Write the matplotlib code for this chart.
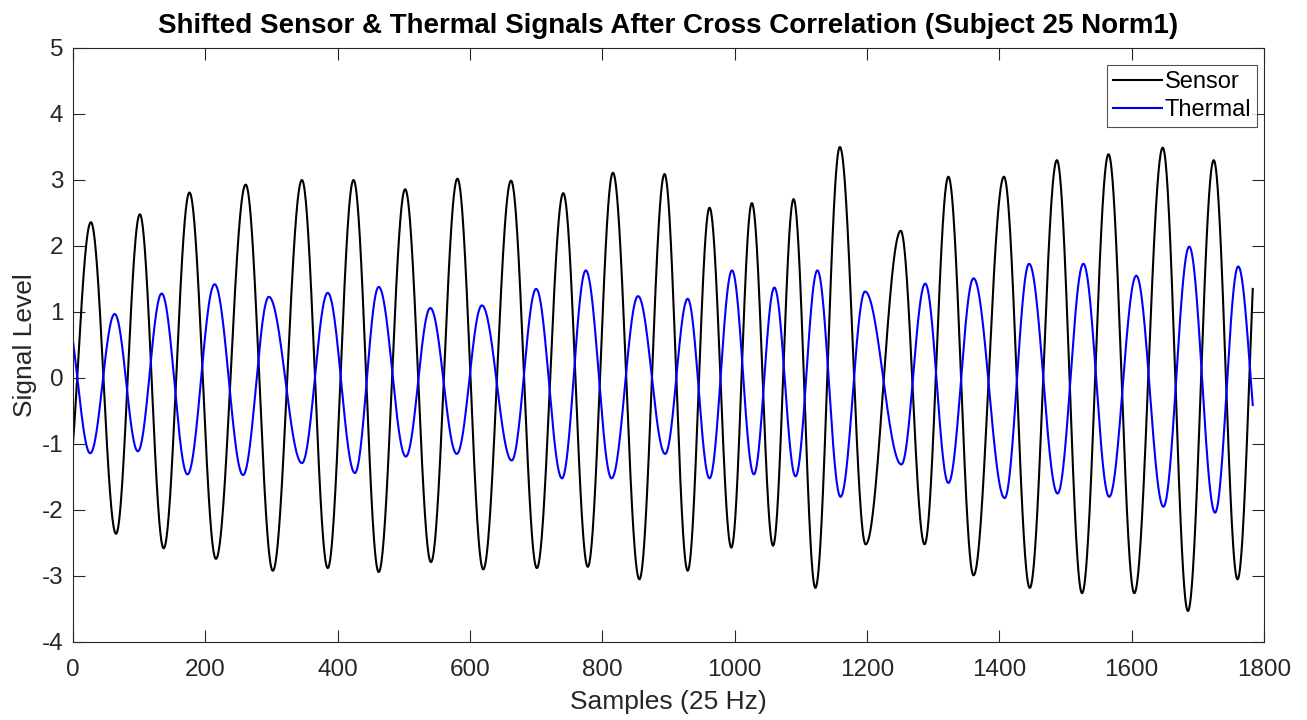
import numpy as np
import matplotlib
matplotlib.use("Agg")
import matplotlib.pyplot as plt

# ---- data: extrema of each signal (sample index, level) ----
sensor_x = [0, 27, 65, 101, 137, 176, 216, 261, 302, 346, 385, 424, 462, 502, 541, 581,
            620, 662, 701, 741, 778, 816, 856, 894, 929, 962, 995, 1026, 1058, 1089, 1122,
            1159, 1198, 1251, 1287, 1323, 1361, 1407, 1446, 1487, 1525, 1565, 1604, 1647,
            1685, 1724, 1760, 1783]
sensor_y = [-0.99, 2.36, -2.36, 2.48, -2.58, 2.81, -2.74, 2.93, -2.92, 3.00, -2.88, 3.00,
            -2.94, 2.86, -2.79, 3.02, -2.90, 2.99, -2.88, 2.80, -2.86, 3.11, -3.05, 3.09,
            -2.92, 2.58, -2.57, 2.65, -2.54, 2.71, -3.18, 3.50, -2.52, 2.23, -2.52, 3.05,
            -2.99, 3.05, -3.18, 3.30, -3.26, 3.39, -3.26, 3.49, -3.53, 3.30, -3.05, 1.35]

thermal_x = [0, 26, 63, 98, 134, 173, 214, 257, 296, 346, 385, 426, 462, 503, 540, 580,
             618, 663, 700, 739, 775, 814, 854, 895, 929, 962, 996, 1029, 1060, 1092, 1125,
             1160, 1197, 1252, 1288, 1323, 1361, 1408, 1445, 1488, 1527, 1566, 1607, 1648,
             1687, 1726, 1761, 1783]
thermal_y = [0.55, -1.14, 0.97, -1.11, 1.28, -1.46, 1.42, -1.47, 1.23, -1.29, 1.29, -1.44,
             1.38, -1.19, 1.06, -1.15, 1.10, -1.25, 1.35, -1.52, 1.63, -1.52, 1.24, -1.15,
             1.20, -1.52, 1.63, -1.46, 1.37, -1.49, 1.63, -1.80, 1.31, -1.31, 1.43, -1.59,
             1.51, -1.82, 1.73, -1.75, 1.73, -1.80, 1.55, -1.95, 1.99, -2.04, 1.69, -0.41]

series_names = ["Sensor", "Thermal"]
title_text = "Shifted Sensor & Thermal Signals After Cross Correlation (Subject 25 Norm1)"
xlabel_text = "Samples (25 Hz)"
ylabel_text = "Signal Level"
x_ticks = [0, 200, 400, 600, 800, 1000, 1200, 1400, 1600, 1800]
y_ticks = [-4, -3, -2, -1, 0, 1, 2, 3, 4, 5]


def oscillation(xk, yk, step=0.5):
    """Smooth oscillation through the given extrema (half-cosine between them)."""
    xk = np.asarray(xk, float)
    yk = np.asarray(yk, float)
    xs, ys = [], []
    n = len(xk)
    for i in range(n - 1):
        x0, x1 = xk[i], xk[i + 1]
        t = np.arange(x0, x1, step)
        if i == 0:
            L = xk[2] - xk[1]
            num = 1 - np.cos(np.pi * (x1 - t) / L)
            den = 1 - np.cos(np.pi * (x1 - x0) / L)
            y = yk[1] + (yk[0] - yk[1]) * num / den
        elif i == n - 2:
            L = xk[n - 2] - xk[n - 3]
            num = 1 - np.cos(np.pi * (t - x0) / L)
            den = 1 - np.cos(np.pi * (x1 - x0) / L)
            y = yk[i] + (yk[i + 1] - yk[i]) * num / den
        else:
            u = (t - x0) / (x1 - x0)
            y = yk[i] + (yk[i + 1] - yk[i]) * (1 - np.cos(np.pi * u)) / 2
        xs.append(t)
        ys.append(y)
    xs.append([xk[-1]])
    ys.append([yk[-1]])
    return np.concatenate(xs), np.concatenate(ys)


plt.rcParams['font.family'] = ['Liberation Sans', 'DejaVu Sans']
plt.rcParams['axes.unicode_minus'] = False
axis_col = '#262626'

fig = plt.figure(figsize=(13.07, 7.20), dpi=100)
ax = fig.add_axes([73 / 1307, 78 / 720, (1264 - 73) / 1307, (642 - 48) / 720])

sx, sy = oscillation(sensor_x, sensor_y)
tx, ty = oscillation(thermal_x, thermal_y)
ax.plot(sx, sy, color='black', lw=1.5, label=series_names[0])
ax.plot(tx, ty, color='#0000ff', lw=1.5, label=series_names[1])

ax.set_xlim(0, 1800)
ax.set_ylim(-4, 5)
ax.set_xticks(x_ticks)
ax.set_yticks(y_ticks)
ax.tick_params(direction='in', length=8.6, width=0.8, top=True, right=True,
               labelsize=17.5, colors=axis_col)
ax.tick_params(axis='x', pad=12)
ax.tick_params(axis='y', pad=7)
for s in ax.spines.values():
    s.set_color(axis_col)
    s.set_linewidth(0.8)

ax.set_xlabel(xlabel_text, fontsize=19, color=axis_col, labelpad=7)
ax.set_ylabel(ylabel_text, fontsize=19, color=axis_col, labelpad=3)
ax.set_title(title_text, fontsize=20, fontweight='bold', color='black', pad=11)

leg = ax.legend(loc='upper right', bbox_to_anchor=((1257 - 73) / 1191, (642 - 65) / 594),
                fontsize=17, frameon=True, fancybox=False,
                edgecolor=axis_col, handlelength=2.08, handletextpad=0.1,
                borderpad=0.25, labelspacing=0.26, borderaxespad=0.0)
leg.get_frame().set_linewidth(0.8)
for t in leg.get_texts():
    t.set_color('black')

fig.savefig('out.png', dpi=100, facecolor='white')
